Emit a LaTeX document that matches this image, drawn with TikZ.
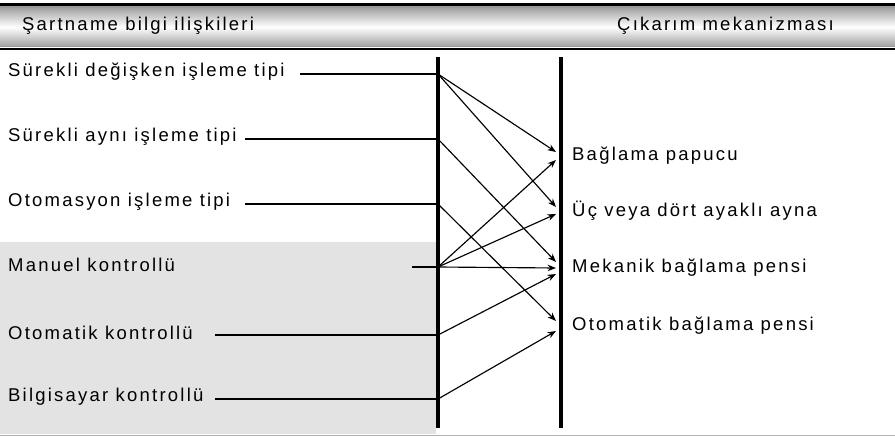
\documentclass[tikz,border=0pt]{standalone}
\usepackage{fontspec}
\setmainfont{Liberation Sans}[LetterSpace=12]
\usetikzlibrary{arrows.meta}
\begin{document}
\begin{tikzpicture}[x=1pt,y=-1pt,
  lbl/.style={anchor=west,inner sep=0pt,font=\fontsize{18.5}{20}\selectfont},
  hdr/.style={anchor=west,inner sep=0pt,font=\fontsize{18.5}{20}\selectfont},
  conn/.style={line width=1.3pt},
  arr/.style={line width=1.15pt,-{Stealth[length=8.5pt,width=6.5pt]}},
  bar/.style={line width=3.2pt}]
\useasboundingbox (0,0) rectangle (895,436);
% header band
\shade[top color=black!38,bottom color=black!38,middle color=white] (0,7) rectangle (895,47);
\draw[line width=2.6pt] (0,4.5) -- (895,4.5);
\draw[line width=2.6pt] (0,49) -- (895,49);
\draw[black!40,line width=0.6pt] (0,7.5) -- (895,7.5);
\draw[black!40,line width=0.6pt] (0,46.5) -- (895,46.5);
\node[hdr] (h1) at (22,26) {Şartname bilgi ilişkileri};
\node[hdr] (h2) at (617,26) {Çıkarım mekanizması};
% shaded area
\fill[black!11] (0,242) rectangle (436,434);
% bottom rule
\draw[black!30,line width=1pt] (0,435) -- (895,435);
% vertical bars
\coordinate (vt) at (438,57); \coordinate (vb) at (438,428);
\coordinate (wt) at (561,57); \coordinate (wb) at (561,428);
\draw[bar] (vt) -- (vb);
\draw[bar] (wt) -- (wb);
% left labels
\node[lbl] (l1) at (8,72) {Sürekli değişken işleme tipi};
\node[lbl] (l2) at (8,137) {Sürekli aynı işleme tipi};
\node[lbl] (l3) at (8,202) {Otomasyon işleme tipi};
\node[lbl] (l4) at (8,265) {Manuel kontrollü};
\node[lbl] (l5) at (8,333) {Otomatik kontrollü};
\node[lbl] (l6) at (8,397) {Bilgisayar kontrollü};
% line start points
\coordinate (s1) at (300,74);
\coordinate (s2) at (245,139);
\coordinate (s3) at (245,204);
\coordinate (s4) at (412,267);
\coordinate (s5) at (215,335);
\coordinate (s6) at (215,399);
% junctions on bar
\coordinate (j1) at (438,74);
\coordinate (j2) at (438,139);
\coordinate (j3) at (438,204);
\coordinate (j4) at (438,267);
\coordinate (j5) at (438,335);
\coordinate (j6) at (438,399);
\foreach \i in {1,...,6} {\draw[conn] (s\i) -- (j\i);}
% right labels
\node[lbl] (r1) at (572,156) {Bağlama papucu};
\node[lbl] (r2) at (572,211) {Üç veya dört ayaklı ayna};
\node[lbl] (r3) at (572,268) {Mekanik bağlama pensi};
\node[lbl] (r4) at (572,326) {Otomatik bağlama pensi};
% arrow targets
\coordinate (t1a) at (556,152); \coordinate (t1b) at (556,160);
\coordinate (t2a) at (556,207); \coordinate (t2b) at (556,214);
\coordinate (t3a) at (556,262); \coordinate (t3b) at (556,268); \coordinate (t3c) at (556,274);
\coordinate (t4a) at (556,321); \coordinate (t4b) at (556,331);
% arrows
\draw[arr] (j1) -- (t1a);
\draw[arr] (j1) -- (t2a);
\draw[arr] (j2) -- (t3a);
\draw[arr] (j3) -- (t4a);
\draw[arr] (j4) -- (t1b);
\draw[arr] (j4) -- (t2b);
\draw[arr] (j4) -- (t3b);
\draw[arr] (j5) -- (t3c);
\draw[arr] (j6) -- (t4b);
\end{tikzpicture}
\end{document}
